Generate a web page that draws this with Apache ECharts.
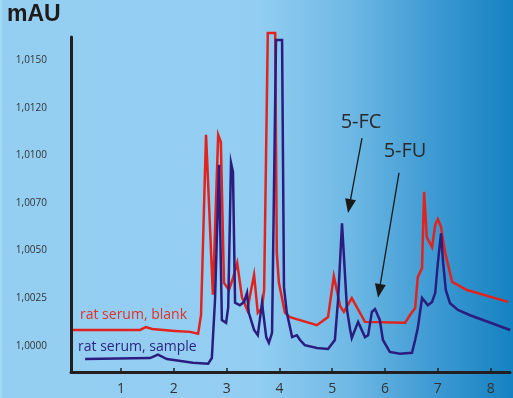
<!DOCTYPE html>
<html>
<head>
<meta charset="utf-8">
<script src="https://cdn.jsdelivr.net/npm/echarts@6/dist/echarts.min.js"></script>
<style>
html,body{margin:0;padding:0;}
#chart{width:513px;height:398px;background:linear-gradient(to right,#a9dbf6 0px,#94cff2 3px,#93cef2 50%,#6fb9e5 68%,#3f9bd3 84%,#1482c1 100%);}
</style>
</head>
<body>
<div id="chart"></div>
<script>
// x: retention time (min); y: response in axis-step units (0 = 1,0000 ... 6 = 1,0150)
const xTicks = [1, 2, 3, 4, 5, 6, 7, 8];
const yTickLabels = ['1,0000', '1,0025', '1,0050', '1,0070', '1,0100', '1,0120', '1,0150'];

const blankX = [0.09,1.36,1.47,1.59,2.02,2.31,2.46,2.515,2.61,2.74,2.84,2.89,2.95,3.045,3.12,3.20,3.29,3.39,3.52,3.59,3.67,3.71,3.78,3.92,3.95,3.99,4.105,4.20,4.71,4.92,5.03,5.15,5.22,5.37,5.62,6.38,6.47,6.57,6.62,6.70,6.74,6.79,6.89,6.95,7.00,7.06,7.135,7.27,7.55,8.33];
const blankY = [0.33,0.33,0.39,0.35,0.31,0.29,0.25,0.64,4.43,1.07,4.43,4.28,1.32,1.17,1.42,1.74,1.02,0.75,1.49,0.69,0.79,1.17,6.57,6.57,1.95,1.32,0.69,0.60,0.43,0.60,1.46,0.83,0.71,1.00,0.50,0.48,0.64,0.79,1.44,1.63,3.23,2.28,2.07,2.54,2.66,2.49,1.97,1.34,1.17,0.92];

const sampleX = [0.32,1.55,1.70,1.87,2.36,2.65,2.72,2.78,2.856,2.91,2.99,3.03,3.083,3.12,3.16,3.25,3.33,3.386,3.42,3.52,3.59,3.67,3.75,3.80,3.86,3.935,4.05,4.086,4.14,4.24,4.33,4.39,4.48,4.71,4.92,5.05,5.11,5.185,5.28,5.34,5.37,5.49,5.62,5.68,5.75,5.81,5.90,5.96,6.09,6.28,6.51,6.57,6.62,6.70,6.76,6.81,6.89,6.95,7.00,7.06,7.10,7.15,7.23,7.38,7.61,8.37];
const sampleY = [-0.28,-0.26,-0.19,-0.28,-0.36,-0.38,-0.26,0.96,3.80,0.54,0.48,0.81,3.84,3.65,0.90,0.85,0.92,1.11,0.69,0.33,0.22,0.90,0.18,0.06,0.27,6.42,6.42,1.23,0.69,0.18,0.22,0.12,0.01,-0.05,-0.07,0.12,0.96,2.57,0.75,0.33,0.16,0.50,0.18,0.22,0.71,0.77,0.54,0.12,-0.13,-0.17,-0.15,0.12,0.37,1.00,0.92,0.85,0.92,1.11,1.74,2.36,1.74,1.17,0.89,0.75,0.64,0.33];

const blankName = 'rat serum, blank';
const sampleName = 'rat serum, sample';
// peak annotations: [label, arrow start, arrow end] in data units
const annotations = [
  ['5-FC', [5.563, 4.36], [5.323, 2.93]],
  ['5-FU', [6.264, 3.63], [5.889, 1.15]]
];

const zip = (xs, ys) => xs.map((x, i) => [x, ys[i]]);

const chart = echarts.init(document.getElementById('chart'), null, {renderer: 'canvas'});
const axisColor = '#231f20';
const textColor = '#333333';
const fam = '"Open Sans", "Noto Sans", sans-serif';

chart.setOption({
  animation: false,
  backgroundColor: 'transparent',
  grid: {left: 71, right: 3, top: 37, bottom: 26, containLabel: false},
  xAxis: {
    type: 'value', min: 0.053, max: 8.366,
    splitLine: {show: false},
    axisLine: {show: true, onZero: false, lineStyle: {color: axisColor, width: 3}},
    axisTick: {show: true, inside: true, length: 4, customValues: xTicks, lineStyle: {color: axisColor, width: 1.5}},
    axisLabel: {customValues: xTicks, color: textColor, fontSize: 14, fontFamily: fam, margin: 10}
  },
  yAxis: {
    type: 'value', min: -0.553, max: 6.485,
    splitLine: {show: false},
    axisLine: {show: true, onZero: false, lineStyle: {color: axisColor, width: 3}},
    axisTick: {show: false},
    axisLabel: {customValues: [0,1,2,3,4,5,6], formatter: v => yTickLabels[Math.round(v)], color: textColor, fontSize: 10, fontFamily: fam, margin: 24}
  },
  series: [
    {name: blankName, type: 'line', data: zip(blankX, blankY), symbol: 'none', clip: false, z: 2,
     lineStyle: {color: '#e2231d', width: 2.5, join: 'miter'}},
    {name: sampleName, type: 'line', data: zip(sampleX, sampleY), symbol: 'none', clip: false, z: 3,
     lineStyle: {color: '#2b1c80', width: 2.5, join: 'miter'},
     markLine: {
       silent: true, symbol: ['none', 'triangle'], symbolSize: [11, 14],
       label: {show: false},
       lineStyle: {color: '#1a1a1a', width: 1.3, type: 'solid'},
       emphasis: {disabled: true},
       data: annotations.map(a => [{coord: a[1]}, {coord: a[2]}])
     }}
  ],
  graphic: []
});

// text annotations
const px = (x, y) => chart.convertToPixel({gridIndex: 0}, [x, y]);
const txt = (text, x, y, opts) => Object.assign({type: 'text', style: Object.assign({text: text, fontFamily: fam}, opts.style), x: x, y: y, silent: true}, opts.extra || {});
const p1 = px(5.545, 4.70), p2 = px(6.378, 4.09), p3 = px(0.223, 0.645), p4 = px(0.186, -0.027);
chart.setOption({
  graphic: [
    {type: 'text', left: 7, top: 3, style: {text: 'mAU', font: 'bold 23px "Liberation Sans", Arial, sans-serif', fill: '#1e1a1a'}},
    txt(annotations[0][0], p1[0], p1[1], {style: {fontSize: 20, fill: '#2a2a2a', align: 'center', verticalAlign: 'middle'}}),
    txt(annotations[1][0], p2[0], p2[1], {style: {fontSize: 20, fill: '#2a2a2a', align: 'center', verticalAlign: 'middle'}}),
    txt(blankName, p3[0], p3[1], {style: {fontSize: 14, fill: '#e0302a', align: 'left', verticalAlign: 'middle'}}),
    txt(sampleName, p4[0], p4[1], {style: {fontSize: 14, fill: '#2b2580', align: 'left', verticalAlign: 'middle'}})
  ]
});
</script>
</body>
</html>
